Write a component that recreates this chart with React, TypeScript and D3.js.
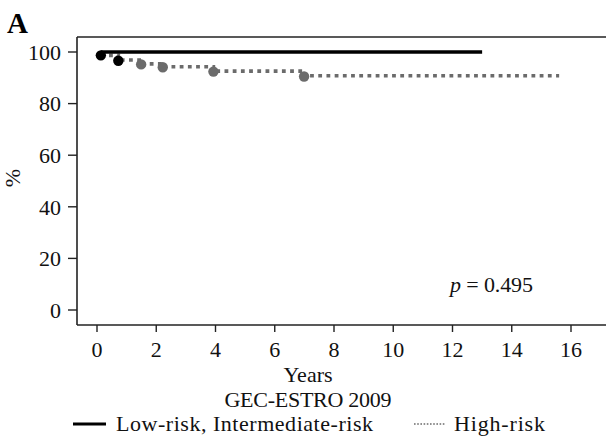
import React from 'react';
import * as d3 from 'd3';

// Kaplan-Meier style steps
const lowRisk = [
  { t: 0.13, v: 100 },
  { t: 13.0, v: 100 },
];
const highRisk = [
  { t: 0.13, v: 98.7 },
  { t: 0.72, v: 96.9 },
  { t: 1.49, v: 95.4 },
  { t: 2.22, v: 94.3 },
  { t: 3.93, v: 92.6 },
  { t: 6.99, v: 90.8 },
  { t: 15.6, v: 90.8 },
];
// event markers; first two belong to the solid group
const markers = [
  { t: 0.13, v: 98.7, group: 'low' },
  { t: 0.72, v: 96.6, group: 'low' },
  { t: 1.49, v: 95.2, group: 'high' },
  { t: 2.22, v: 94.1, group: 'high' },
  { t: 3.93, v: 92.4, group: 'high' },
  { t: 6.99, v: 90.5, group: 'high' },
];
const xTicks = [0, 2, 4, 6, 8, 10, 12, 14, 16];
const yTicks = [0, 20, 40, 60, 80, 100];

const W = 606;
const H = 437;
const FONT = '"Liberation Serif", "Times New Roman", serif';
const GREY = '#6b6b6b';
const FS = 22;

const App = () => {
  const x = d3.scaleLinear().domain([0, 16]).range([97, 571]);
  const y = d3.scaleLinear().domain([0, 100]).range([310, 52]);

  const frameLeft = 77;
  const frameTop = 37;
  const frameBottom = 325;

  const step = d3
    .line<{ t: number; v: number }>()
    .x(d => x(d.t))
    .y(d => y(d.v))
    .curve(d3.curveStepAfter);

  return (
    <svg
      width={W}
      height={H}
      style={{ position: 'absolute', left: 0, top: 0, background: '#fff' }}
      fontFamily={FONT}
    >
      <text x={7} y={33} fontSize={29} fontWeight="bold" fill="#000">
        A
      </text>

      {/* frame */}
      <line x1={frameLeft} x2={W} y1={frameTop} y2={frameTop} stroke="#222" strokeWidth={1.6} />
      <line x1={frameLeft} x2={W} y1={frameBottom} y2={frameBottom} stroke="#222" strokeWidth={1.6} />
      <line x1={frameLeft} x2={frameLeft} y1={frameTop} y2={frameBottom} stroke="#222" strokeWidth={1.6} />

      {/* y axis */}
      {yTicks.map(v => (
        <g key={'y' + v}>
          <line x1={68} x2={frameLeft} y1={y(v)} y2={y(v)} stroke="#222" strokeWidth={1.4} />
          <text x={61} y={y(v)} dy="0.35em" textAnchor="end" fontSize={FS} fill="#111">
            {v}
          </text>
        </g>
      ))}
      <text
        transform={`translate(20,178) rotate(-90)`}
        textAnchor="middle"
        fontSize={FS}
        fill="#111"
      >
        %
      </text>

      {/* x axis */}
      {xTicks.map(v => (
        <g key={'x' + v}>
          <line x1={x(v)} x2={x(v)} y1={frameBottom} y2={frameBottom + 7} stroke="#222" strokeWidth={1.4} />
          <text x={x(v)} y={357} textAnchor="middle" fontSize={FS} fill="#111">
            {v}
          </text>
        </g>
      ))}
      <text x={308} y={382} textAnchor="middle" fontSize={FS} fill="#111">
        Years
      </text>
      <text x={308} y={407} textAnchor="middle" fontSize={FS} fill="#111" textLength={167} lengthAdjust="spacing">
        GEC-ESTRO 2009
      </text>

      {/* curves */}
      <path d={step(highRisk) || ''} fill="none" stroke={GREY} strokeWidth={3.6} strokeDasharray="3.8 4.4" />
      <path d={step(lowRisk) || ''} fill="none" stroke="#000" strokeWidth={3.6} />
      {markers.map((m, i) => (
        <circle key={i} cx={x(m.t)} cy={y(m.v)} r={5.2} fill={m.group === 'low' ? '#000' : GREY} />
      ))}

      <text x={450} y={292} fontSize={FS} fill="#111" textLength={83} lengthAdjust="spacing">
        <tspan fontStyle="italic">p</tspan> = 0.495
      </text>

      {/* legend */}
      <line x1={73} x2={106} y1={424} y2={424} stroke="#000" strokeWidth={3} />
      <text x={116} y={431} fontSize={FS} fill="#111" textLength={257} lengthAdjust="spacing">
        Low-risk, Intermediate-risk
      </text>
      <line x1={414} x2={446} y1={424} y2={424} stroke={GREY} strokeWidth={1.6} strokeDasharray="1.6 1.6" />
      <text x={454} y={431} fontSize={FS} fill="#111" textLength={91} lengthAdjust="spacing">
        High-risk
      </text>
    </svg>
  );
};

export default App;
